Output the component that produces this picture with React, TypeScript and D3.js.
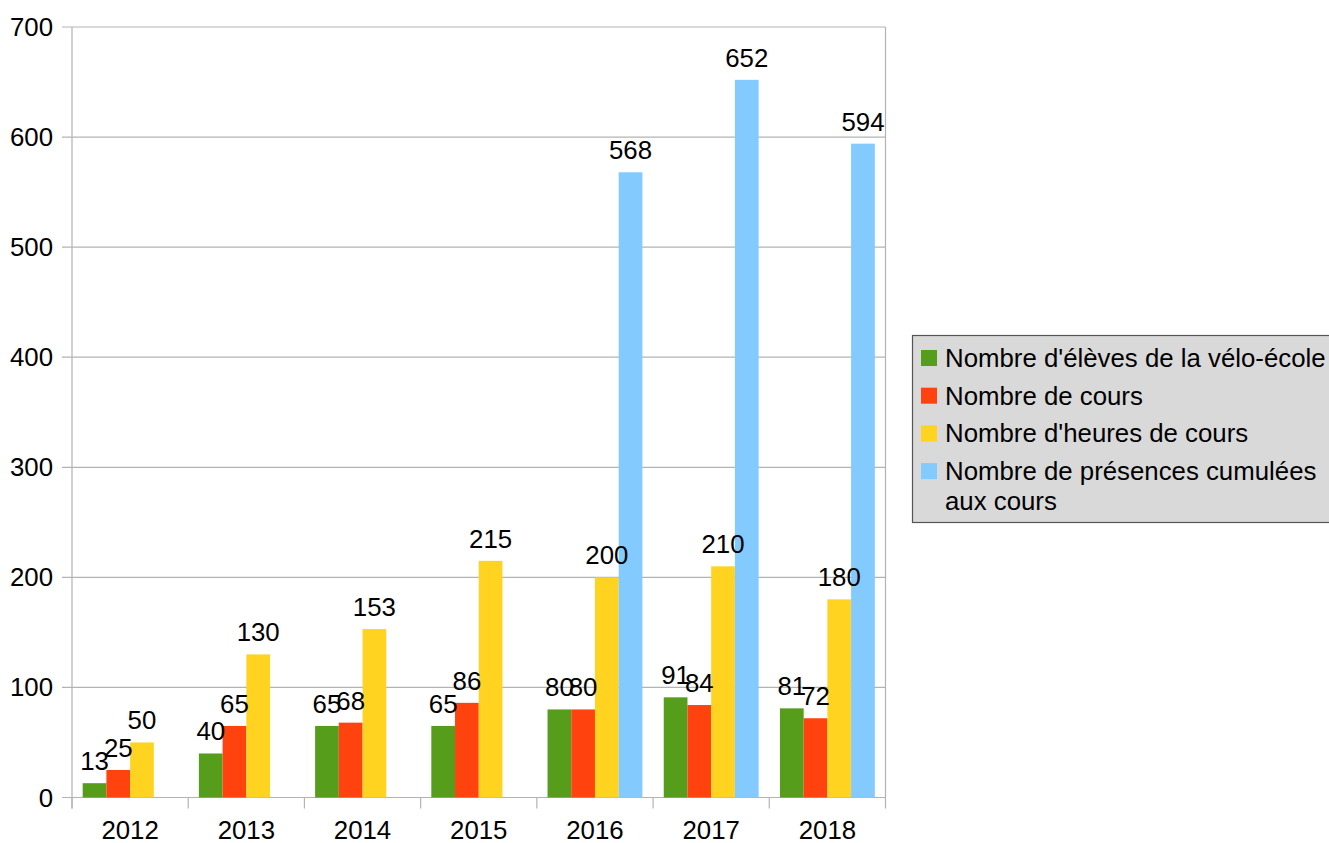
import React from "react";
import * as d3 from "d3";

const years = ["2012", "2013", "2014", "2015", "2016", "2017", "2018"];
const eleves = [13, 40, 65, 65, 80, 91, 81];
const cours = [25, 65, 68, 86, 80, 84, 72];
const heures = [50, 130, 153, 215, 200, 210, 180];
const presences = [null, null, null, null, 568, 652, 594];
const seriesNames = [
  "Nombre d'élèves de la vélo-école",
  "Nombre de cours",
  "Nombre d'heures de cours",
  "Nombre de présences cumulées",
];
const colors = ["#579d1c", "#ff420e", "#ffd320", "#83caff"];
const yTicks = [0, 100, 200, 300, 400, 500, 600, 700];

const W = 1329;
const H = 843;
const left = 72;
const right = 885.5;
const top = 27;
const bottom = 797.5;
const font = "'Liberation Sans', Arial, sans-serif";
const fs = 25.8;

export default function App() {
  const series = [eleves, cours, heures, presences];
  const x = d3.scaleBand<string>().domain(years).range([left, right]).paddingInner(0).paddingOuter(0);
  const inner = d3
    .scaleBand<number>()
    .domain([0, 1, 2, 3])
    .range([0, x.bandwidth()])
    .paddingOuter(0.45)
    .paddingInner(0);
  const y = d3.scaleLinear().domain([0, 700]).range([bottom, top]);
  const gridColor = "#b3b3b3";

  const marks: { si: number; i: number; v: number; bx: number; bw: number }[] = [];
  series.forEach((s, si) =>
    s.forEach((v, i) => {
      if (v == null) return;
      marks.push({ si, i, v, bx: x(years[i])! + inner(si)!, bw: inner.bandwidth() });
    })
  );

  return (
    <svg width={W} height={H} style={{ position: "absolute", left: 0, top: 0, background: "#fff" }}>
      {yTicks.map((t) => (
        <g key={t}>
          <line x1={left - 10} x2={right} y1={y(t)} y2={y(t)} stroke={gridColor} strokeWidth={1.2} />
          <text x={53} y={y(t) + 9} textAnchor="end" fontFamily={font} fontSize={fs} fill="#000">
            {t}
          </text>
        </g>
      ))}
      <line x1={left} x2={left} y1={top} y2={bottom + 11} stroke={gridColor} strokeWidth={1.2} />
      <line x1={right} x2={right} y1={top} y2={bottom + 11} stroke={gridColor} strokeWidth={1.2} />
      {years.map((yr) => (
        <line
          key={"t" + yr}
          x1={x(yr)!}
          x2={x(yr)!}
          y1={bottom}
          y2={bottom + 11}
          stroke={gridColor}
          strokeWidth={1.2}
        />
      ))}
      {years.map((yr) => (
        <text
          key={"l" + yr}
          x={x(yr)! + x.bandwidth() / 2}
          y={839}
          textAnchor="middle"
          fontFamily={font}
          fontSize={fs}
          fill="#000"
        >
          {yr}
        </text>
      ))}
      {marks.map((m) => (
        <rect
          key={"r" + m.si + "-" + m.i}
          x={m.bx}
          y={y(m.v)}
          width={m.bw}
          height={bottom - y(m.v)}
          fill={colors[m.si]}
        />
      ))}
      {marks.map((m) => (
        <text
          key={"v" + m.si + "-" + m.i}
          x={m.bx + m.bw / 2}
          y={y(m.v) - 13}
          textAnchor="middle"
          fontFamily={font}
          fontSize={fs}
          fill="#000"
        >
          {m.v}
        </text>
      ))}
      <g>
        <rect x={912.5} y={335.5} width={430} height={187} fill="#d9d9d9" stroke="#555" strokeWidth={1.2} />
        {seriesNames.map((n, i) => (
          <g key={n}>
            <rect x={921} y={350 + i * 37.7} width={16} height={16} fill={colors[i]} />
            <text x={945} y={367 + i * 37.7} fontFamily={font} fontSize={fs} fill="#000">
              {n}
            </text>
          </g>
        ))}
        <text x={945} y={367 + 3 * 37.7 + 30} fontFamily={font} fontSize={fs} fill="#000">
          aux cours
        </text>
      </g>
    </svg>
  );
}
